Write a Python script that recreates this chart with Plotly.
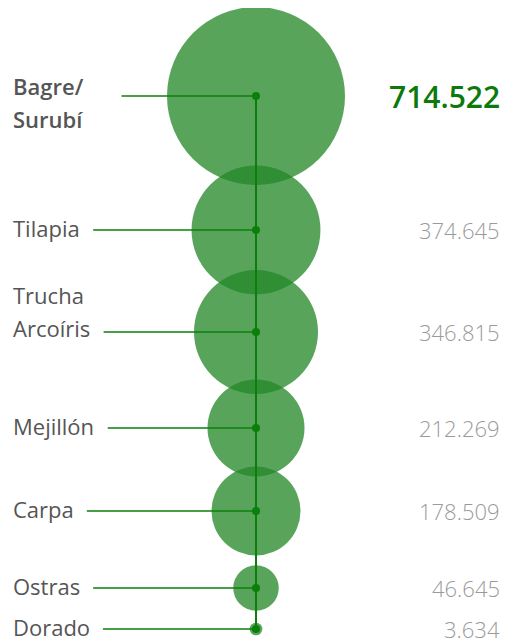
import plotly.graph_objects as go

# ---- data ----
especies = [["Bagre/", "Surubí"], ["Tilapia"], ["Trucha", "Arcoíris"], ["Mejillón"], ["Carpa"], ["Ostras"], ["Dorado"]]
produccion = [714522, 374645, 346815, 212269, 178509, 46645, 3634]
valores_txt = ["714.522", "374.645", "346.815", "212.269", "178.509", "46.645", "3.634"]
posicion = [96, 230, 332, 428, 511, 588, 629]   # vertical row position of each species

# ---- style ----
PAGE = 8                      # default body margin of the html page
W, H = 517, 644
CX = 256
R_MAX = 89
GREEN = "#0a800a"
BUBBLE = "rgba(36,136,40,0.76)"
FONT = "Open Sans"
LABEL_X = 11
VALUE_X = 502
LINE_H = 33
LBL_SIZE = 22
LBL_SHIFT = 2
label_first_dy = [-8, 0, -35, 0, 0, 0, 0]   # offset of first text line relative to its row

# approximate glyph widths (em) for connector start
cw = {"a": .556, "b": .613, "c": .48, "d": .613, "e": .561, "g": .55, "h": .614, "i": .258,
      "j": .258, "l": .258, "m": .926, "n": .614, "o": .602, "p": .613, "r": .409, "s": .478,
      "t": .352, "u": .614, "T": .554, "M": .907, "C": .631, "O": .779, "D": .713, "A": .633,
      "B": .66, "S": .55, "í": .258, "ó": .602, "/": .372}


def text_w(lines, size, bold=False):
    f = 1.06 if bold else 1.0
    return max(sum(cw.get(ch, .58) for ch in ln) for ln in lines) * size * f


sizeref = max(produccion) / (2 * R_MAX ** 2)

fig = go.Figure()

# bubbles
fig.add_trace(go.Scatter(
    x=[CX] * len(produccion), y=posicion, mode="markers",
    marker=dict(size=produccion, sizemode="area", sizeref=sizeref, color=BUBBLE,
                opacity=1, line=dict(width=0)),
    hoverinfo="skip", showlegend=False))

# vertical spine
fig.add_trace(go.Scatter(x=[CX, CX], y=[posicion[0], posicion[-1]], mode="lines",
                         line=dict(color=GREEN, width=2), hoverinfo="skip", showlegend=False))

# connectors
for i, (lab, yv) in enumerate(zip(especies, posicion)):
    bold = i == 0
    x0 = LABEL_X + 2 + text_w(lab, LBL_SIZE, bold) + (36 if bold else 13)
    fig.add_trace(go.Scatter(x=[x0, CX], y=[yv, yv], mode="lines",
                             line=dict(color=GREEN, width=1.5), hoverinfo="skip", showlegend=False))

# center dots
fig.add_trace(go.Scatter(x=[CX] * len(posicion), y=posicion, mode="markers",
                         marker=dict(size=8, color=GREEN, opacity=1), hoverinfo="skip", showlegend=False))

ann = []
for i, (lab, yv, vt) in enumerate(zip(especies, posicion, valores_txt)):
    bold = i == 0
    for k, ln in enumerate(lab):
        ann.append(dict(x=LABEL_X, y=yv + label_first_dy[i] + k * LINE_H, xref="x", yref="y",
                        text=ln, yshift=LBL_SHIFT,
                        xanchor="left", yanchor="middle", align="left", showarrow=False,
                        font=dict(family=FONT, size=LBL_SIZE, color="#555555", weight=600 if bold else 400)))
    ann.append(dict(x=VALUE_X, y=yv, xref="x", yref="y", text=vt,
                    xanchor="right", yanchor="middle", showarrow=False,
                    font=dict(family=FONT, size=30 if bold else 22,
                              color="#0b7a0b" if bold else "#9a9a9a", weight=600 if bold else 300)))

fig.update_layout(
    width=W - PAGE, height=H - PAGE, margin=dict(l=0, r=0, t=0, b=0),
    paper_bgcolor="white", plot_bgcolor="white",
    xaxis=dict(range=[PAGE, W], visible=False, fixedrange=True),
    yaxis=dict(range=[H, PAGE], visible=False, fixedrange=True),
    annotations=ann, showlegend=False)

fig.write_html("out.html")
